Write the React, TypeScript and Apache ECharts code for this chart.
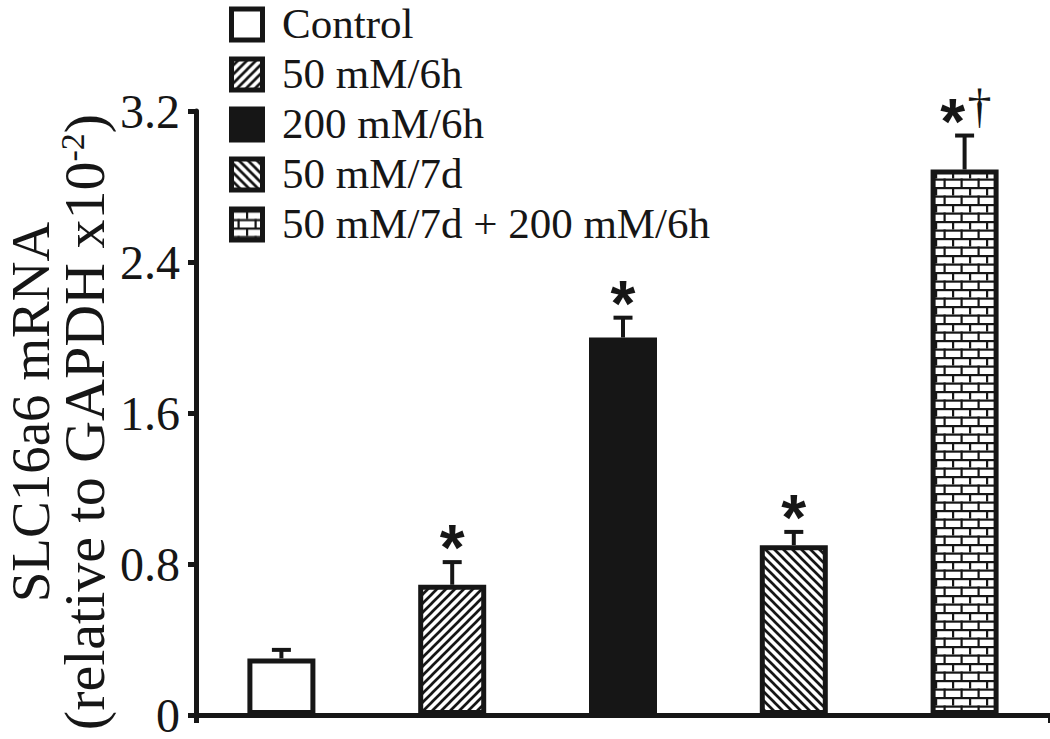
import React, { useEffect, useRef } from "react";
import * as echarts from "echarts";

// ---- data ----
const categories = ["Control", "50 mM/6h", "200 mM/6h", "50 mM/7d", "50 mM/7d + 200 mM/6h"];
const means = [0.3, 0.69, 2.0, 0.9, 2.89];
const errors = [0.045, 0.12, 0.105, 0.07, 0.18];
const asterisks = ["", "*", "*", "*", "*"];
const daggers = ["", "", "", "", "†"];
const yMin = 0;
const yMax = 3.2;
const yInterval = 0.8;
const yTitle1 = "SLC16a6 mRNA";
const yTitle2 = "(relative to GAPDH x10{sup|-2})";

const INK = "#161616";
const SERIF = "'Liberation Serif', 'Times New Roman', serif";
const SANS = "'Liberation Sans', Arial, sans-serif";

function makeCanvas(w: number, h: number, draw: (ctx: CanvasRenderingContext2D) => void) {
  const c = document.createElement("canvas");
  c.width = w;
  c.height = h;
  const ctx = c.getContext("2d")!;
  ctx.fillStyle = "#ffffff";
  ctx.fillRect(0, 0, w, h);
  draw(ctx);
  return c;
}

function stripes(dir: 1 | -1) {
  const s = 9;
  const c = makeCanvas(s, s, (ctx) => {
    ctx.strokeStyle = INK;
    ctx.lineWidth = 2.7;
    ctx.beginPath();
    for (let k = -1; k <= 1; k++) {
      if (dir === 1) {
        ctx.moveTo(-1 + k * s, s + 1);
        ctx.lineTo(s + 1 + k * s, -1);
      } else {
        ctx.moveTo(-1 + k * s, -1);
        ctx.lineTo(s + 1 + k * s, s + 1);
      }
    }
    ctx.stroke();
  });
  return { image: c, repeat: "repeat", imageWidth: s, imageHeight: s } as any;
}

function bricks() {
  const w = 17;
  const h = 17;
  const c = makeCanvas(w, h, (ctx) => {
    ctx.fillStyle = INK;
    ctx.fillRect(0, 0, w, 2.2);
    ctx.fillRect(0, 8.5, w, 2.2);
    ctx.fillRect(0, 0, 2.2, 8.5);
    ctx.fillRect(8.5, 8.5, 2.2, 8.5);
  });
  return { image: c, repeat: "repeat", imageWidth: w, imageHeight: h } as any;
}

export default function App() {
  const ref = useRef<HTMLDivElement>(null);

  useEffect(() => {
    if (!ref.current) return;
    const chart = echarts.init(ref.current, undefined, { renderer: "svg" });

    const fills: any[] = ["#ffffff", stripes(1), INK, stripes(-1), bricks()];

    const legendChildren: any[] = [];
    categories.forEach((name, i) => {
      legendChildren.push({
        type: "rect",
        shape: { x: 2.5, y: 2.5 + i * 50, width: 31, height: 31 },
        style: { fill: fills[i], stroke: INK, lineWidth: 5 },
      });
      legendChildren.push({
        type: "text",
        x: 53,
        y: 17 + i * 50,
        style: {
          text: name,
          font: `43px ${SERIF}`,
          fill: INK,
          align: "left",
          verticalAlign: "middle",
        },
      });
    });

    const option: any = {
      animation: false,
      backgroundColor: "#ffffff",
      grid: { left: 196, right: 0, top: 111, bottom: 14, containLabel: false },
      xAxis: {
        type: "category",
        data: categories,
        axisLine: { show: true, lineStyle: { color: INK, width: 5 } },
        axisTick: {
          show: true,
          length: 8,
          lineStyle: { color: INK, width: 5 },
          interval: (i: number) => i === 0,
        },
        axisLabel: { show: false },
        splitLine: { show: false },
      },
      yAxis: {
        type: "value",
        min: yMin,
        max: yMax,
        interval: yInterval,
        axisLine: { show: true, lineStyle: { color: INK, width: 5 } },
        axisTick: { show: true, length: 8, lineStyle: { color: INK, width: 5 } },
        axisLabel: {
          margin: 16,
          fontSize: 48,
          fontFamily: SERIF,
          color: INK,
        },
        splitLine: { show: false },
      },
      graphic: [
        { type: "group", left: 229, top: 2, children: legendChildren },
        {
          type: "text",
          x: 30,
          y: 412,
          rotation: Math.PI / 2,
          style: {
            text: yTitle1,
            font: `55px ${SERIF}`,
            fill: INK,
            align: "center",
            verticalAlign: "middle",
          },
        },
        {
          type: "text",
          x: 84,
          y: 422,
          rotation: Math.PI / 2,
          style: {
            text: yTitle2,
            font: `58px ${SERIF}`,
            fill: INK,
            align: "center",
            verticalAlign: "middle",
            rich: {
              sup: { font: `34px ${SERIF}`, fill: INK, verticalAlign: "top", padding: [0, 0, 22, 0] },
            },
          },
        },
      ],
      series: [
        {
          type: "bar",
          barWidth: 68,
          data: means.map((v, i) => ({
            value: v,
            itemStyle: { color: fills[i], borderColor: INK, borderWidth: 5 },
          })),
          z: 2,
        },
        {
          type: "custom",
          z: 3,
          data: means.map((m, i) => [i, m, errors[i]]),
          renderItem: (params: any, api: any) => {
            const idx = api.value(0);
            const m = api.value(1);
            const e = api.value(2);
            const base = api.coord([idx, m]);
            const top = api.coord([idx, m + e]);
            const x = base[0];
            const children: any[] = [
              {
                type: "line",
                shape: { x1: x, y1: base[1], x2: x, y2: top[1] },
                style: { stroke: INK, lineWidth: 4 },
              },
              {
                type: "line",
                shape: { x1: x - 9.5, y1: top[1], x2: x + 9.5, y2: top[1] },
                style: { stroke: INK, lineWidth: 4 },
              },
            ];
            const star = asterisks[idx];
            const dag = daggers[idx];
            if (star) {
              children.push({
                type: "text",
                x: dag ? x - 12 : x,
                y: top[1] - 14,
                style: {
                  text: star,
                  font: `bold 64px ${SANS}`,
                  fill: INK,
                  align: "center",
                  verticalAlign: "middle",
                },
              });
            }
            if (dag) {
              children.push({
                type: "text",
                x: x + 15,
                y: top[1] - 30,
                style: {
                  text: dag,
                  font: `48px ${SERIF}`,
                  fill: INK,
                  align: "center",
                  verticalAlign: "middle",
                },
              });
            }
            return { type: "group", children };
          },
        },
      ],
    };

    chart.setOption(option);
    return () => chart.dispose();
  }, []);

  return (
    <div
      ref={ref}
      style={{ position: "fixed", left: 0, top: 0, width: 1050, height: 739, background: "#fff" }}
    />
  );
}
